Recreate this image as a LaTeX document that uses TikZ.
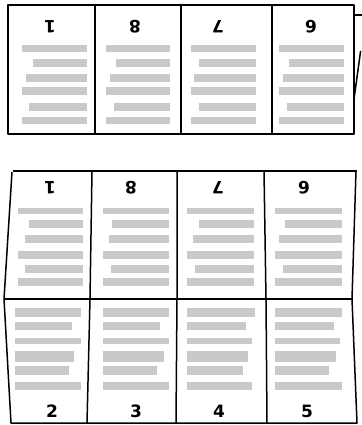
\documentclass[tikz,border=0pt]{standalone}
\usepackage{fontspec}
\setmainfont{DejaVu Sans}
\begin{document}
\begin{tikzpicture}[x=1pt,y=-1pt,
  frame/.style={draw=black,line width=1.5pt,line join=round},
  barc/.style={fill=black!21},
  num/.style={font=\fontsize{17}{17}\selectfont\bfseries,inner sep=0pt},
  flip/.style={num,rotate=180}]
\useasboundingbox (0,0) rectangle (361,425);
% ---------- top panel ----------
\draw[frame] (8,5) rectangle (354,134);
\draw[frame] (95,5) -- (95,134) (181,5) -- (181,134) (272,5) -- (272,134);
\draw[frame] (354,15) -- (362,15);
\draw[frame] (360.6,51) -- (354,99);
\node[flip] (t1) at (50,27) {1};
\node[flip] (t8) at (135,27) {8};
\node[flip] (t7) at (218,27) {7};
\node[flip] (t6) at (311,27) {6};
\foreach \ya/\yb/\a/\b/\c/\d in {45/52/22/106/191/279, 59/67/33/116/199/289, 74/82/26/110/194/283, 87/95/22/106/191/279, 103/111/29/114/199/287, 117/124/22/106/191/279}{
  \fill[barc] (\a,\ya) rectangle (87,\yb);
  \fill[barc] (\b,\ya) rectangle (170,\yb);
  \fill[barc] (\c,\ya) rectangle (256,\yb);
  \fill[barc] (\d,\ya) rectangle (344,\yb);
}
% ---------- bottom panel ----------
\draw[frame] (13,171) -- (357,171);
\draw[frame] (12,172) -- (4,299) -- (11,423) -- (357,423) -- (352,299) -- (356,171);
\draw[frame] (4,299) -- (352,299);
\draw[frame] (92,171) -- (90,299) -- (87,423);
\draw[frame] (177,171) -- (177,299) -- (176,423);
\draw[frame] (264,171) -- (266,299) -- (267,423);
\node[flip] (b1) at (50,188) {1};
\node[flip] (b8) at (131,188) {8};
\node[flip] (b7) at (218,188) {7};
\node[flip] (b6) at (304,188) {6};
\node[num] (b2) at (52,411) {2};
\node[num] (b3) at (136,411) {3};
\node[num] (b4) at (219,411) {4};
\node[num] (b5) at (307,411) {5};
\foreach \ya/\yb/\a/\b/\c/\d in {208/214/18/103/187/275, 220/228/29/112/199/285, 235/243/25/109/193/279, 251/259/18/103/187/275, 265/273/25/111/195/283, 278/286/18/103/187/275}{
  \fill[barc] (\a,\ya) rectangle (83,\yb);
  \fill[barc] (\b,\ya) rectangle (169,\yb);
  \fill[barc] (\c,\ya) rectangle (254,\yb);
  \fill[barc] (\d,\ya) rectangle (342,\yb);
}
\foreach \ya/\yb/\a/\b/\c/\d in {308/317/81/169/255/342, 322/330/72/160/246/334, 338/344/81/169/252/340, 351/362/74/164/248/336, 366/375/69/157/243/329, 382/390/81/169/252/342}{
  \fill[barc] (15,\ya) rectangle (\a,\yb);
  \fill[barc] (103,\ya) rectangle (\b,\yb);
  \fill[barc] (187,\ya) rectangle (\c,\yb);
  \fill[barc] (275,\ya) rectangle (\d,\yb);
}
\end{tikzpicture}
\end{document}
